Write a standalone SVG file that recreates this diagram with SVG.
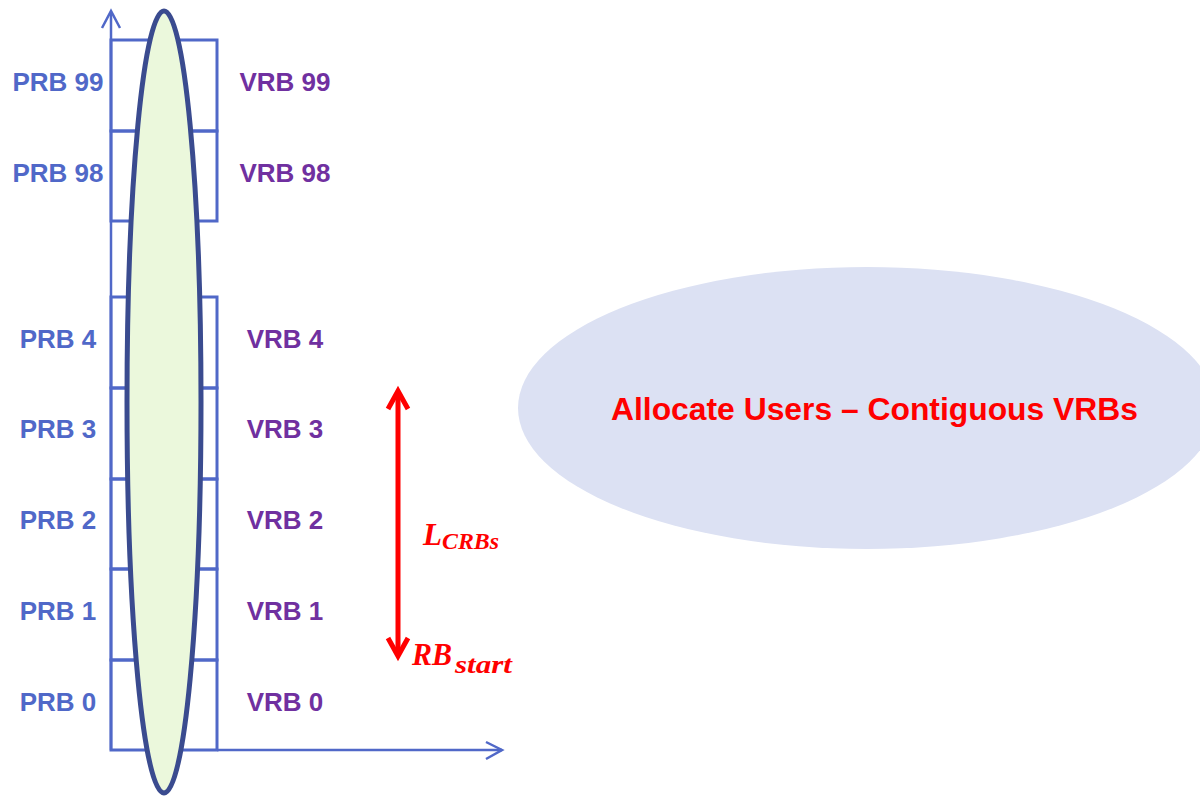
<svg xmlns="http://www.w3.org/2000/svg" width="1200" height="797" viewBox="0 0 1200 797">
  <style>
    .box { fill: none; stroke: #5068c8; stroke-width: 3; }
    .axis { fill: none; stroke: #5068c8; stroke-width: 2.5; }
    .prb { font-family: "Liberation Sans", Arial, sans-serif; font-weight: bold; font-size: 26px; fill: #5068c8; text-anchor: middle; }
    .vrb { font-family: "Liberation Sans", Arial, sans-serif; font-weight: bold; font-size: 26px; fill: #7030a0; text-anchor: middle; }
    .math { font-family: "Liberation Serif", "Times New Roman", serif; font-weight: bold; font-style: italic; fill: #ff0000; }
    .red { fill: none; stroke: #ff0000; stroke-width: 5; stroke-linejoin: miter; }
  </style>
  <rect width="1200" height="797" fill="#ffffff"/>

  <g id="allocate-ellipse">
    <ellipse cx="867" cy="408" rx="349" ry="141" fill="#dce1f3"/>
    <text x="611" y="420" font-family="Liberation Sans, Arial, sans-serif" font-weight="bold" font-size="32" fill="#ff0000" textLength="527" lengthAdjust="spacingAndGlyphs">Allocate Users – Contiguous VRBs</text>
  </g>

  <g id="connectors">
    <g id="axes">
      <polyline class="axis" points="111,750 111,12"/>
      <polyline class="axis" points="102,28 111,11 120,28"/>
      <polyline class="axis" points="217,750 502,750"/>
      <polyline class="axis" points="486,742 502,750 486,759"/>
    </g>
    <g id="range-arrow">
      <line class="red" x1="398" y1="392" x2="398" y2="655"/>
      <polyline class="red" points="388,409 398,391 408,409"/>
      <polyline class="red" points="388,638 398,656 408,638"/>
    </g>
  </g>

  <g id="rb-grid">
    <rect class="box" x="111" y="40" width="106" height="91"/>
    <rect class="box" x="111" y="131" width="106" height="90"/>
    <rect class="box" x="111" y="297" width="106" height="91"/>
    <rect class="box" x="111" y="388" width="106" height="91"/>
    <rect class="box" x="111" y="479" width="106" height="90"/>
    <rect class="box" x="111" y="569" width="106" height="91"/>
    <rect class="box" x="111" y="660" width="106" height="90"/>
  </g>

  <g id="user-ellipse">
    <ellipse cx="164" cy="402" rx="37" ry="391" fill="#ebf8dc" stroke="#3a4b8f" stroke-width="5"/>
  </g>

  <g id="prb-labels">
    <text class="prb" x="58" y="91">PRB 99</text>
    <text class="prb" x="58" y="182">PRB 98</text>
    <text class="prb" x="58" y="348">PRB 4</text>
    <text class="prb" x="58" y="438">PRB 3</text>
    <text class="prb" x="58" y="529">PRB 2</text>
    <text class="prb" x="58" y="620">PRB 1</text>
    <text class="prb" x="58" y="711">PRB 0</text>
  </g>

  <g id="vrb-labels">
    <text class="vrb" x="285" y="91">VRB 99</text>
    <text class="vrb" x="285" y="182">VRB 98</text>
    <text class="vrb" x="285" y="348">VRB 4</text>
    <text class="vrb" x="285" y="438">VRB 3</text>
    <text class="vrb" x="285" y="529">VRB 2</text>
    <text class="vrb" x="285" y="620">VRB 1</text>
    <text class="vrb" x="285" y="711">VRB 0</text>
  </g>

  <g id="math-labels">
    <text class="math" x="423" y="545" font-size="32" textLength="19" lengthAdjust="spacingAndGlyphs">L</text>
    <text class="math" x="442" y="549" font-size="24" textLength="57" lengthAdjust="spacingAndGlyphs">CRBs</text>
    <text class="math" x="412" y="665" font-size="31" textLength="40" lengthAdjust="spacingAndGlyphs">RB</text>
    <text class="math" x="455" y="673" font-size="25" textLength="57" lengthAdjust="spacingAndGlyphs">start</text>
  </g>
</svg>
